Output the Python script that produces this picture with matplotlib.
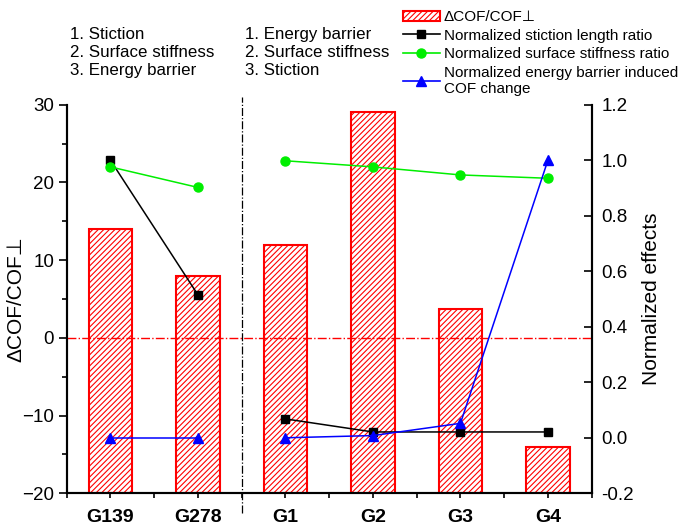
import matplotlib
matplotlib.use("Agg")
import matplotlib.pyplot as plt
import numpy as np
from matplotlib.patches import Patch
from matplotlib.lines import Line2D
from matplotlib.ticker import MultipleLocator

plt.rcParams['font.family'] = ['Liberation Sans', 'DejaVu Sans']
plt.rcParams['hatch.linewidth'] = 0.8

categories = ["G139", "G278", "G1", "G2", "G3", "G4"]
dcof = [14.0, 8.0, 12.0, 29.1, 3.7, -14.0]
stiction = [1.0, 0.515, 0.068, 0.021, 0.021, 0.021]
stiffness = [0.976, 0.902, 0.998, 0.976, 0.947, 0.935]
energy = [0.0, 0.0, 0.0, 0.008, 0.052, 1.0]
groups = [[0, 1], [2, 3, 4, 5]]

fig = plt.figure(figsize=(6.86, 5.31), dpi=100)
ax = fig.add_axes([0.0972, 0.071, 0.7653, 0.7318])
ax2 = ax.twinx()

x = np.arange(len(categories))
base = -20
ax.bar(x, np.array(dcof) - base, bottom=base, width=0.5, facecolor='white',
       edgecolor='red', hatch='//////', linewidth=1.5, zorder=2)
ax.axhline(0, color='red', linestyle='-.', linewidth=1.0, zorder=3)
ax.axvline(1.5, ymin=-0.05, ymax=1.02, color='black', linestyle='-.',
           linewidth=0.9, clip_on=False, zorder=3)

for g in groups:
    xs = x[g]
    ax2.plot(xs, [stiction[i] for i in g], color='black', marker='s', markersize=6.2, linewidth=1.1)
    ax2.plot(xs, [stiffness[i] for i in g], color='#00ee00', marker='o', markersize=6.5, linewidth=1.1)
    ax2.plot(xs, [energy[i] for i in g], color='blue', marker='^', markersize=7.8, linewidth=1.1)

ax.set_xlim(-0.5, 5.5)
ax.set_ylim(-20, 30)
ax2.set_ylim(-0.2, 1.2)
ax.set_xticks(x)
ax.set_xticklabels(categories, fontsize=14, fontweight='bold')
ax.xaxis.set_minor_locator(MultipleLocator(0.5))
ax.set_yticks(np.arange(-20, 31, 10))
ax.yaxis.set_minor_locator(MultipleLocator(5))
ax2.set_yticks(np.arange(-0.2, 1.21, 0.2))
ax2.set_yticklabels([f"{v:.1f}" for v in np.arange(-0.2, 1.21, 0.2)])

ax.tick_params(axis='y', which='major', direction='out', length=6, width=1.2, labelsize=13.5, pad=3)
ax.tick_params(axis='y', which='minor', direction='out', length=3.6, width=1.2)
ax.tick_params(axis='x', which='both', direction='out', length=3.6, width=1.2, pad=8)
ax2.tick_params(axis='y', direction='in', length=6, width=1.2, labelsize=13.5, pad=7)

for sp in ['left', 'right', 'bottom']:
    ax.spines[sp].set_linewidth(1.5)
    ax2.spines[sp].set_linewidth(1.5)
ax.spines['top'].set_visible(False)
ax2.spines['top'].set_visible(False)

ax.set_ylabel("ΔCOF/COF⊥", fontsize=15)
ax.yaxis.set_label_coords(-0.078, 0.5)
ax2.set_ylabel("Normalized effects", fontsize=15, labelpad=6)

fig.text(0.102, 0.95, "1. Stiction\n2. Surface stiffness\n3. Energy barrier",
         fontsize=12.2, va='top', ha='left', linespacing=1.28)
fig.text(0.357, 0.95, "1. Energy barrier\n2. Surface stiffness\n3. Stiction",
         fontsize=12.2, va='top', ha='left', linespacing=1.28)

handles = [Patch(facecolor='white', edgecolor='red', hatch='//////', linewidth=1.5),
           Line2D([], [], color='black', marker='s', markersize=6, linewidth=1.2),
           Line2D([], [], color='#00ee00', marker='o', markersize=6.5, linewidth=1.2),
           Line2D([], [], color='blue', marker='^', markersize=7, linewidth=1.2)]
labels = ["ΔCOF/COF⊥", "Normalized stiction length ratio",
          "Normalized surface stiffness ratio",
          "Normalized energy barrier induced\nCOF change"]
fig.legend(handles, labels, loc='upper left', bbox_to_anchor=(0.583, 0.9865),
           frameon=False, fontsize=11, handlelength=2.4, handletextpad=0.26,
           labelspacing=0.3, borderaxespad=0.0, borderpad=0.2)

fig.savefig("out.png", dpi=100)
